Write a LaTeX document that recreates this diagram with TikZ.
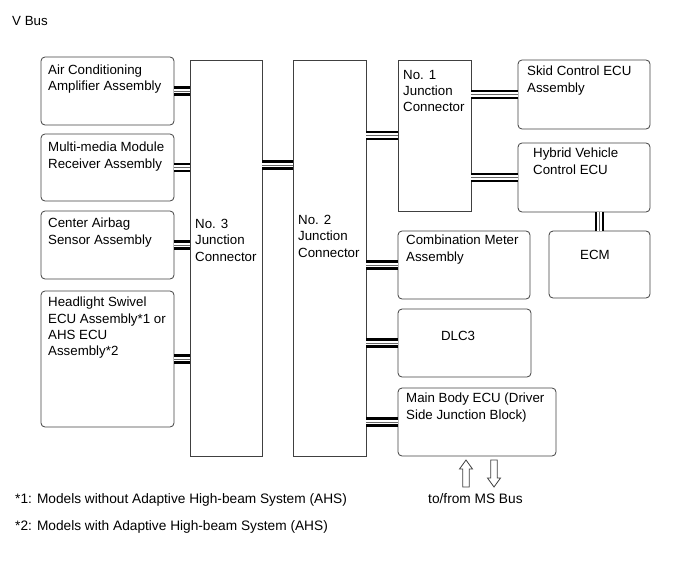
\documentclass[tikz,border=0pt]{standalone}
\usepackage{fontspec}
\setmainfont{Liberation Sans}
\begin{document}
\begin{tikzpicture}[x=1pt,y=-1pt,
  ecu/.style={draw=black!75, line width=0.8pt, rounded corners=4pt, inner sep=0pt, outer sep=0pt, anchor=north west},
  jbox/.style={draw=black!75, line width=0.8pt, inner sep=0pt, outer sep=0pt, anchor=north west},
  txt/.style={font=\fontsize{13.3}{16.3}\selectfont, align=left, inner sep=0pt, anchor=north west},
  note/.style={font=\fontsize{13.7}{16.3}\selectfont, align=left, inner sep=0pt, anchor=north west},
  bus/.style={preaction={draw=black, line width=9.2pt}, draw=white, line width=4.8pt,
              postaction={draw=black!60, line width=0.8pt}},
  blockarrow/.style={draw=black!75, line width=0.8pt, fill=white}
]
\useasboundingbox (0,0) rectangle (690,562);

% left boxes
\node[ecu, minimum width=133pt, minimum height=68pt] (ac) at (41,57) {};
\node[ecu, minimum width=133pt, minimum height=67pt] (mm) at (41,134) {};
\node[ecu, minimum width=133pt, minimum height=68pt] (ca) at (41,211) {};
\node[ecu, minimum width=133pt, minimum height=136pt] (hl) at (41,291) {};
% junctions
\node[jbox, minimum width=72pt, minimum height=396pt] (j3) at (190,60) {};
\node[jbox, minimum width=73pt, minimum height=396pt] (j2) at (293,60) {};
\node[jbox, minimum width=73pt, minimum height=151pt] (j1) at (398,60) {};
% right boxes
\node[ecu, minimum width=132pt, minimum height=69pt] (sk) at (518,60) {};
\node[ecu, minimum width=132pt, minimum height=69pt] (hv) at (518,143) {};
\node[ecu, minimum width=101pt, minimum height=67pt] (ecm) at (549,231) {};
\node[ecu, minimum width=132pt, minimum height=68pt] (cm) at (398,231) {};
\node[ecu, minimum width=133pt, minimum height=68pt] (dlc) at (398,309) {};
\node[ecu, minimum width=158pt, minimum height=68pt] (mb) at (398,388) {};

% texts
\node[txt] (vbus) at (12,16) {V Bus};
\node[txt] (ac-t) at (48,64.5) {Air Conditioning\\Amplifier Assembly};
\node[txt] (mm-t) at (48,142) {Multi-media Module\\Receiver Assembly};
\node[txt] (ca-t) at (48,218) {Center Airbag\\Sensor Assembly};
\node[txt] (hl-t) at (48,297) {Headlight Swivel\\ECU Assembly*1 or\\AHS ECU\\Assembly*2};
\node[txt] (j3-t) at (195,219) {No. 3\\Junction\\Connector};
\node[txt] (j2-t) at (298,215) {No. 2\\Junction\\Connector};
\node[txt] (j1-t) at (403,70) {No. 1\\Junction\\Connector};
\node[txt] (sk-t) at (527,66) {Skid Control ECU\\Assembly};
\node[txt] (hv-t) at (533,148) {Hybrid Vehicle\\Control ECU};
\node[txt, anchor=center] (ecm-t) at (595,255) {ECM};
\node[txt] (cm-t) at (406,235) {Combination Meter\\Assembly};
\node[txt, anchor=center] (dlc-t) at (458,336) {DLC3};
\node[txt] (mb-t) at (406,393) {Main Body ECU (Driver\\Side Junction Block)};
\node[note] (ms-t) at (428,493) {to/from MS Bus};
\node[note] (fn1) at (15,493) {*1: Models without Adaptive High-beam System (AHS)};
\node[note] (fn2) at (15,520) {*2: Models with Adaptive High-beam System (AHS)};

% connectors
\draw[bus] (ac.east) -- (ac.east -| j3.west);
\draw[bus] (mm.east) -- (mm.east -| j3.west);
\draw[bus] (ca.east) -- (ca.east -| j3.west);
\draw[bus] (hl.east) -- (hl.east -| j3.west);
\coordinate (c32) at (j3.east |- 0,165);
\draw[bus] (c32) -- (c32 -| j2.west);
\draw[bus] (j1.west) -- (j1.west -| j2.east);
\draw[bus] (sk.west) -- (sk.west -| j1.east);
\draw[bus] (hv.west) -- (hv.west -| j1.east);
\draw[bus] (ecm.north) -- (ecm.north |- hv.south);
\draw[bus] (cm.west) -- (cm.west -| j2.east);
\draw[bus] (dlc.west) -- (dlc.west -| j2.east);
\draw[bus] (mb.west) -- (mb.west -| j2.east);

% block arrows to/from MS Bus
\draw[blockarrow] (466,460) -- (472.5,469) -- (469.2,469) -- (469.2,487) -- (462.8,487) -- (462.8,469) -- (459.5,469) -- cycle;
\draw[blockarrow] (494,487) -- (500.5,478) -- (497.2,478) -- (497.2,460) -- (490.8,460) -- (490.8,478) -- (487.5,478) -- cycle;
\end{tikzpicture}
\end{document}
